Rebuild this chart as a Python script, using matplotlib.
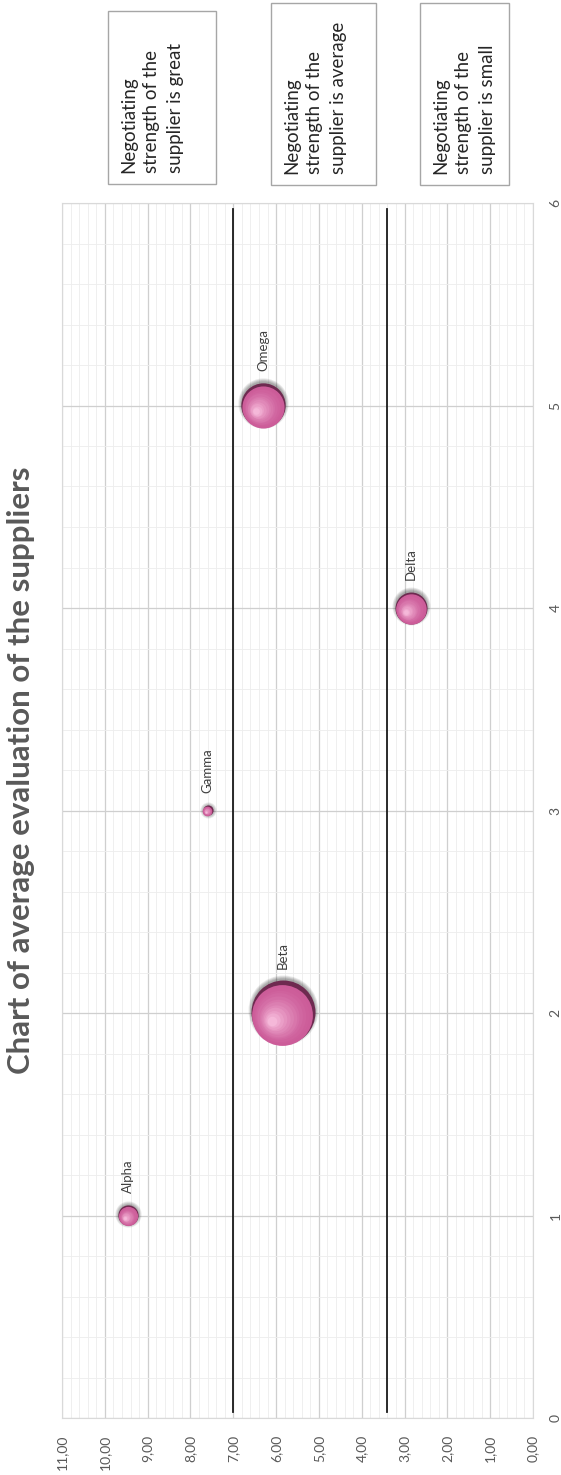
import matplotlib.pyplot as plt
import matplotlib.transforms as mtransforms
from matplotlib.patches import Rectangle
from matplotlib.ticker import MultipleLocator
import numpy as np

plt.rcParams['font.family'] = ['Lato', 'DejaVu Sans']

# data
suppliers = ["Alpha", "Beta", "Gamma", "Delta", "Omega"]
positions = [1, 2, 3, 4, 5]
evaluations = [9.45, 5.85, 7.6, 2.85, 6.3]
bubble_sizes = [10, 100, 2.5, 25, 48]
thresholds = [7.0, 3.4]
eval_ticks = list(range(0, 12))
pos_ticks = list(range(0, 7))
box_texts = [
    "Negotiating\nstrength of the\nsupplier is great",
    "Negotiating\nstrength of the\nsupplier is average",
    "Negotiating\nstrength of the\nsupplier is small",
]
title = "Chart of average evaluation of the suppliers"

W, H = 561, 1475
fig = plt.figure(figsize=(W / 100, H / 100), dpi=100)
fig.patch.set_facecolor("white")

# the chart is rotated: evaluation runs right->left, supplier position bottom->top
ax = fig.add_axes([62 / W, 1 - 1418 / H, (533 - 62) / W, (1418 - 203) / H])
ax.set_xlim(11, 0)
ax.set_ylim(0, 6)

ax.xaxis.set_major_locator(MultipleLocator(1))
ax.xaxis.set_minor_locator(MultipleLocator(0.2))
ax.yaxis.set_major_locator(MultipleLocator(1))
ax.yaxis.set_minor_locator(MultipleLocator(0.2))
ax.grid(which="major", color="#cfcfcf", lw=0.9)
ax.grid(which="minor", color="#ededed", lw=0.6)
ax.set_axisbelow(True)

for s in ax.spines.values():
    s.set_color("#d9d9d9")
    s.set_linewidth(0.8)

ax.set_xticks(eval_ticks)
ax.set_xticklabels([f"{v:.2f}".replace(".", ",") for v in eval_ticks],
                   rotation=90, fontsize=10, color="#595959")
ax.set_yticks(pos_ticks)
ax.set_yticklabels([str(v) for v in pos_ticks], rotation=90,
                   fontsize=10, color="#595959", va="center")
ax.yaxis.tick_right()
ax.tick_params(axis="both", which="both", length=0)
ax.tick_params(axis="x", pad=12)
ax.tick_params(axis="y", pad=12)

# threshold lines
for t in thresholds:
    ax.plot([t, t], [0.03, 5.97], color="#1a1a1a", lw=1.3, zorder=3)

# bubbles drawn as shaded spheres
px = 0.72  # points per pixel
base = np.array([0.80, 0.36, 0.60])
light = np.array([0.96, 0.72, 0.85])
for name, xp, ev, sz in zip(suppliers, positions, evaluations, bubble_sizes):
    r = 3.2 * np.sqrt(sz)  # radius in pixels

    def off(dx, dy):
        return mtransforms.offset_copy(ax.transData, fig=fig,
                                       x=dx * px, y=dy * px, units="points")

    # soft shadow, heavier toward the top
    for k in range(5):
        rr = r + 3 - 0.8 * k
        ax.scatter([ev], [xp], s=(2 * rr * px) ** 2, color="black",
                   alpha=0.08, lw=0, zorder=4, transform=off(0, 0.1 * r))
    ax.scatter([ev], [xp], s=(2 * r * px) ** 2, color="#6e2a50", lw=0,
               zorder=5, transform=off(0, 0.02 * r))
    # body with gradient toward the highlight
    n = 12
    for i in range(n):
        f = i / (n - 1)
        rr = r * (0.95 - 0.8 * f)
        c = base + (light - base) * f ** 1.6
        ax.scatter([ev], [xp], s=(2 * rr * px) ** 2, color=c, lw=0, zorder=6,
                   transform=off(-0.3 * r * f - 0.02 * r, -0.2 * r * f - 0.05 * r))
    ax.annotate(name, (ev, xp), xytext=(0, (r + 12) * px),
                textcoords="offset points", rotation=90, ha="center",
                va="bottom", fontsize=9.5, color="#404040", zorder=7)

# title
fig.text(21 / W, 1 - 770 / H, title, rotation=90, ha="center", va="center",
         fontsize=22.5, fontweight="bold", color="#595959")

# note boxes
boxes = [(108, 11, 216, 184), (271, 3, 376, 185), (420, 3, 509, 185)]
for (x0, y0, x1, y1), txt in zip(boxes, box_texts):
    fig.add_artist(Rectangle((x0 / W, 1 - y1 / H), (x1 - x0) / W, (y1 - y0) / H,
                             transform=fig.transFigure, fill=False,
                             ec="#a6a6a6", lw=1))
    fig.text((x0 + 12) / W, 1 - (y1 - 11) / H, txt, rotation=90, ha="left",
             va="bottom", multialignment="left", fontsize=13.5,
             linespacing=1.45, color="#262626")

fig.savefig("out.png", dpi=100)
